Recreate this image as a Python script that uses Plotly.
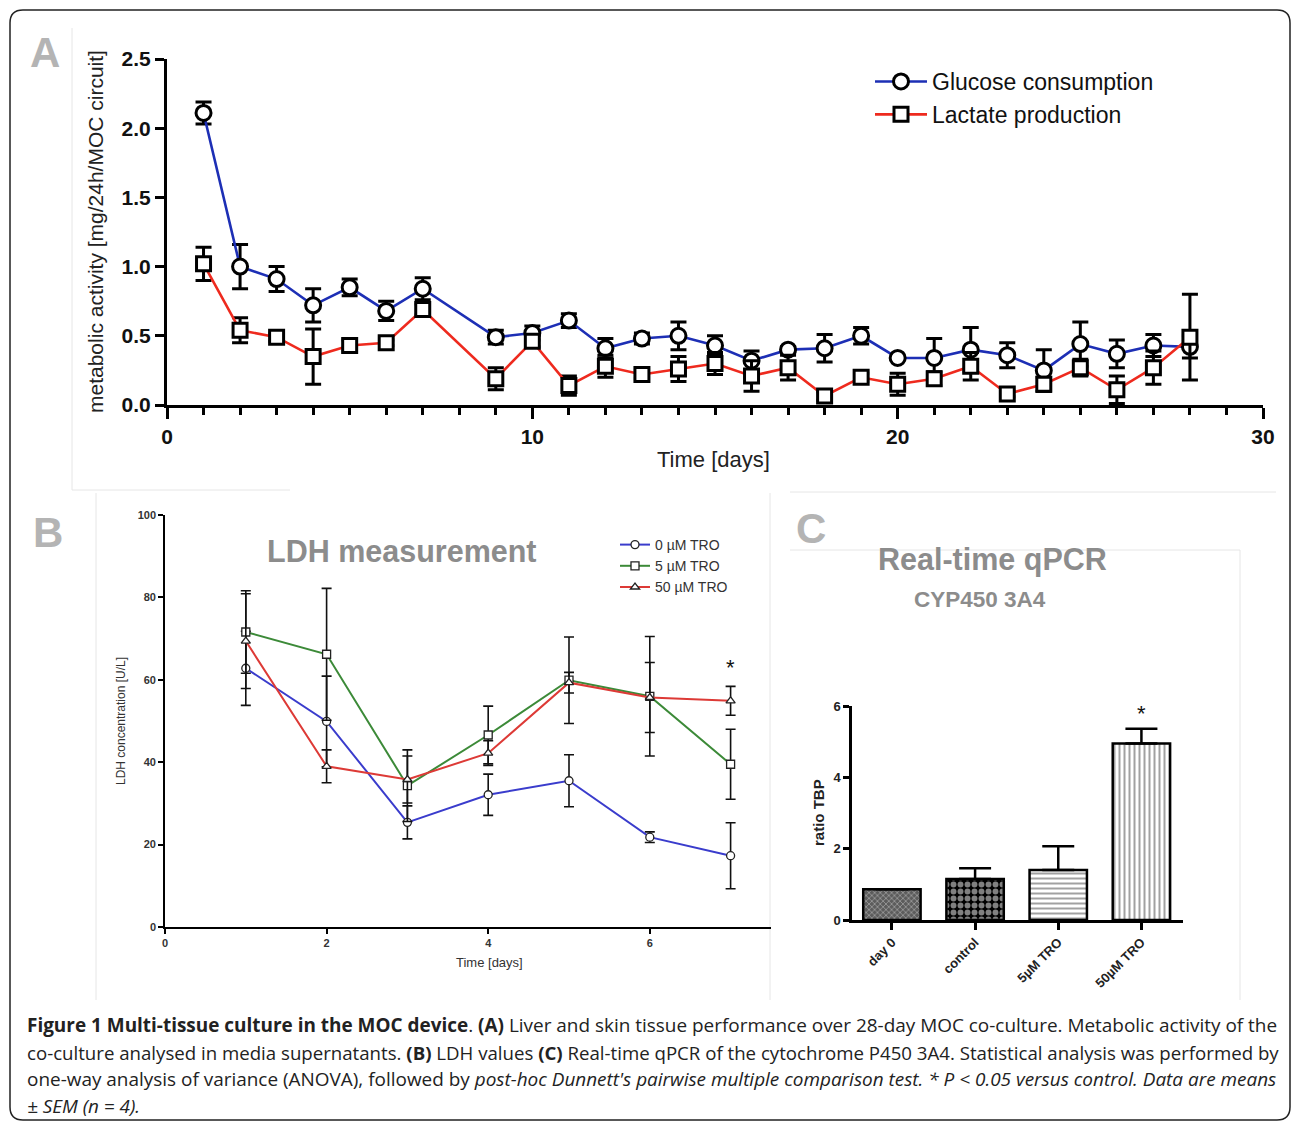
import plotly.graph_objects as go

# ---------------- data ----------------
days_A = [1, 2, 3, 4, 5, 6, 7, 9, 10, 11, 12, 13, 14, 15, 16, 17, 18, 19, 20, 21, 22, 23, 24, 25, 26, 27, 28]
glucose = [2.11, 1.00, 0.91, 0.72, 0.85, 0.68, 0.84, 0.49, 0.52, 0.61, 0.41, 0.48, 0.50, 0.43,
           0.32, 0.40, 0.41, 0.50, 0.34, 0.34, 0.40, 0.36, 0.25, 0.44, 0.37, 0.43, 0.42]
glucose_err = [0.08, 0.16, 0.09, 0.12, 0.06, 0.07, 0.08, 0.05, 0.05, 0.05, 0.07, 0.04, 0.10, 0.07,
               0.07, 0.02, 0.10, 0.06, 0.01, 0.14, 0.16, 0.09, 0.15, 0.16, 0.10, 0.08, 0.08]
lactate = [1.02, 0.54, 0.49, 0.35, 0.43, 0.45, 0.69, 0.19, 0.46, 0.14, 0.28, 0.22, 0.26, 0.30,
           0.21, 0.27, 0.065, 0.20, 0.15, 0.19, 0.28, 0.08, 0.15, 0.27, 0.11, 0.27, 0.49]
lactate_err = [0.12, 0.09, 0.03, 0.20, 0.04, 0.02, 0.04, 0.08, 0.04, 0.07, 0.08, 0.03, 0.09, 0.08,
               0.11, 0.09, 0.03, 0.03, 0.08, 0.05, 0.10, 0.02, 0.05, 0.06, 0.10, 0.12, 0.31]

days_B = [1, 2, 3, 4, 5, 6, 7]
ldh_0 = [62.8, 49.9, 25.4, 32.1, 35.5, 21.8, 17.3]
ldh_0_err = [9, 11, 4, 5, 6.3, 1.3, 8]
ldh_5 = [71.6, 66.2, 34.3, 46.6, 59.9, 56.0, 39.5]
ldh_5_err = [10, 16, 8.7, 7, 10.5, 14.5, 8.5]
ldh_50 = [69.4, 39.0, 35.8, 42.2, 59.3, 55.7, 54.9]
ldh_50_err = [11.5, 4, 5.7, 3, 2.5, 8.5, 3.5]

groups_C = ["day 0", "control", "5µM TRO", "50µM TRO"]
ratio_tbp = [0.86, 1.15, 1.40, 4.95]
ratio_err = [0, 0.30, 0.67, 0.41]

# ---------------- geometry helpers (page pixels -> paper) ----------------
W, H = 1293, 1123


def X(px):
    return px / W


def Y(py):
    return 1 - py / H


ARIAL = "Liberation Sans, Arial, sans-serif"
CAP = "Open Sans, Lato, sans-serif"

fig = go.Figure()

# ---------------- Panel A ----------------
fig.add_trace(go.Scatter(
    x=days_A, y=glucose, name="Glucose consumption", mode="lines+markers",
    line=dict(color="#1d2fb5", width=2.6),
    marker=dict(symbol="circle", size=15, color="white", line=dict(color="black", width=3)),
    error_y=dict(type="data", array=glucose_err, color="black", thickness=3, width=8),
    xaxis="x", yaxis="y", legend="legend"))
fig.add_trace(go.Scatter(
    x=days_A, y=lactate, name="Lactate production", mode="lines+markers",
    line=dict(color="#ee2a1e", width=2.6),
    marker=dict(symbol="square", size=14, color="white", line=dict(color="black", width=3)),
    error_y=dict(type="data", array=lactate_err, color="black", thickness=3, width=8),
    xaxis="x", yaxis="y", legend="legend"))

# ---------------- Panel B ----------------
for vals, errs, name, col, sym in [
    (ldh_0, ldh_0_err, "0 µM TRO", "#3a3ccc", "circle"),
    (ldh_5, ldh_5_err, "5 µM TRO", "#3c8a38", "square"),
    (ldh_50, ldh_50_err, "50 µM TRO", "#dd3a36", "triangle-up"),
]:
    fig.add_trace(go.Scatter(
        x=days_B, y=vals, name=name, mode="lines+markers",
        line=dict(color=col, width=2),
        marker=dict(symbol=sym, size=8, color="white", line=dict(color="#222", width=1.3)),
        error_y=dict(type="data", array=errs, color="#111", thickness=1.6, width=5),
        xaxis="x2", yaxis="y2", legend="legend2"))

# ---------------- Panel C ----------------
fig.add_trace(go.Bar(
    x=groups_C, y=ratio_tbp, width=0.69, showlegend=False,
    marker=dict(
        color=["#5c5c5c", "black", "white", "white"],
        line=dict(color="black", width=2.5),
        pattern=dict(
            shape=["x", ".", "-", "|"],
            fgcolor=["#9a9a9a", "white", "#8a8a8a", "#8a8a8a"],
            size=[4, 7, 5, 5],
            solidity=[0.3, 0.55, 0.4, 0.4],
            fillmode="overlay",
        ),
    ),
    error_y=dict(type="data", symmetric=False, array=ratio_err, arrayminus=[0, 0, 0, 0],
                 color="black", thickness=2.5, width=16),
    xaxis="x3", yaxis="y3"))

# ---------------- axes ----------------
common = dict(showgrid=False, zeroline=False, showline=True, linecolor="black", ticks="outside",
              tickcolor="black", automargin=False)

fig.update_layout(
    xaxis=dict(**common, domain=[X(167), X(1263)], range=[0, 30], tickvals=[0, 10, 20, 30],
               linewidth=3, tickwidth=3, ticklen=11, anchor="y",
               tickfont=dict(family=ARIAL, size=21, color="#111", weight="bold"),
               minor=dict(dtick=1, ticks="outside", ticklen=7, tickwidth=2.5, tickcolor="black")),
    yaxis=dict(**common, domain=[Y(405), Y(59)], range=[0, 2.5], tickvals=[0, 0.5, 1, 1.5, 2, 2.5],
               ticktext=["0.0", "0.5", "1.0", "1.5", "2.0", "2.5"],
               linewidth=3, tickwidth=3, ticklen=9, anchor="x",
               tickfont=dict(family=ARIAL, size=21, color="#111", weight="bold")),
    xaxis2=dict(**common, domain=[X(165), X(771)], range=[0, 7.5], tickvals=[0, 2, 4, 6],
                linewidth=1.6, tickwidth=1.6, ticklen=5, anchor="y2",
                tickfont=dict(family=ARIAL, size=11, color="#333", weight="bold")),
    yaxis2=dict(**common, domain=[Y(927), Y(515)], range=[0, 100], tickvals=[0, 20, 40, 60, 80, 100],
                linewidth=1.6, tickwidth=1.6, ticklen=5, anchor="x2",
                tickfont=dict(family=ARIAL, size=11, color="#333", weight="bold")),
    xaxis3=dict(**common, domain=[X(852), X(1183)], range=[-0.48, 3.5],
                linewidth=2.5, tickwidth=2.5, ticklen=7, anchor="y3", tickangle=-45,
                tickfont=dict(family=ARIAL, size=13, color="#222", weight="bold")),
    yaxis3=dict(**common, domain=[Y(920), Y(706)], range=[0, 6], tickvals=[0, 2, 4, 6],
                linewidth=2.5, tickwidth=2.5, ticklen=6, anchor="x3",
                tickfont=dict(family=ARIAL, size=13, color="#222", weight="bold")),
)

# ---------------- legends ----------------
fig.update_layout(
    legend=dict(x=X(870), y=Y(60), xanchor="left", yanchor="top", bgcolor="rgba(0,0,0,0)",
                font=dict(family=ARIAL, size=23, color="#111"), itemwidth=52, tracegroupgap=0),
    legend2=dict(x=X(615), y=Y(529), xanchor="left", yanchor="top", bgcolor="rgba(0,0,0,0)",
                 font=dict(family=ARIAL, size=14, color="#333"), itemwidth=30, tracegroupgap=0),
)

# ---------------- annotations ----------------
ann = []


def text(px, py, t, size, color="#111", family=ARIAL, weight="normal", angle=0, xanchor="center",
         yanchor="middle"):
    ann.append(dict(x=X(px), y=Y(py), xref="paper", yref="paper", text=t, showarrow=False,
                    textangle=angle, xanchor=xanchor, yanchor=yanchor,
                    font=dict(family=family, size=size, color=color, weight=weight)))


# panel letters
text(45, 52, "A", 42, color="#b4b4b4", weight="bold")
text(48, 533, "B", 42, color="#b4b4b4", weight="bold")
text(811, 528, "C", 42, color="#b4b4b4", weight="bold")

# panel A titles
text(95, 232, "metabolic activity [mg/24h/MOC circuit]", 21, color="#222", angle=-90)
text(714, 459, "Time [days]", 22, color="#222")

# panel B titles
text(402, 551, "LDH measurement", 30.5, color="#8c8c8c", weight="bold")
text(121, 721, "LDH concentration [U/L]", 12, color="#333", angle=-90)
text(489, 962, "Time [days]", 13, color="#333")

# panel C titles
text(993, 559, "Real-time qPCR", 30.5, color="#8c8c8c", weight="bold")
text(980, 599, "CYP450 3A4", 22.5, color="#8c8c8c", weight="bold")
text(818, 813, "ratio TBP", 15, color="#222", weight="bold", angle=-90)

# significance stars
ann.append(dict(x=days_B[-1], y=ldh_50[-1] + 8, xref="x2", yref="y2", text="*", showarrow=False,
                font=dict(family=ARIAL, size=22, color="#111")))
ann.append(dict(x=groups_C[-1], y=ratio_tbp[-1] + 0.85, xref="x3", yref="y3", text="*", showarrow=False,
                font=dict(family=ARIAL, size=22, color="#111")))

# caption
cap_lines = [
    "<b>Figure 1 Multi-tissue culture in the MOC device</b>. <b>(A)</b> Liver and skin tissue performance over "
    "28-day MOC co-culture. Metabolic activity of the",
    "co-culture analysed in media supernatants. <b>(B)</b> LDH values <b>(C)</b> Real-time qPCR of the "
    "cytochrome P450 3A4. Statistical analysis was performed by",
    "one-way analysis of variance (ANOVA), followed by <i>post-hoc Dunnett's pairwise multiple comparison "
    "test. * P &lt; 0.05 versus control. Data are means</i>",
    "<i>± SEM (n = 4).</i>",
]
cap_sizes = [18.95, 18.65, 18.95, 18.9]
for i, line in enumerate(cap_lines):
    text(25, 1025 + 27 * i, line, cap_sizes[i], color="#222", family=CAP, xanchor="left")

fig.update_layout(annotations=ann)

# ---------------- shapes (frames) ----------------
shapes = []


def pline(x0, y0, x1, y1, color="#e6e6e6", width=1):
    shapes.append(dict(type="line", xref="paper", yref="paper", x0=X(x0), y0=Y(y0), x1=X(x1), y1=Y(y1),
                       line=dict(color=color, width=width), layer="below"))


pline(72, 28, 72, 490)
pline(72, 490, 290, 490)
pline(96, 493, 96, 1000)
pline(770, 493, 770, 1000)
pline(790, 492, 1276, 492)
pline(790, 550, 1240, 550)
pline(1240, 550, 1240, 1000)

# outer rounded border
L, T, R, B, r = 10, 10, 1290, 1120, 13
path = (f"M {X(L + r)},{Y(T)} L {X(R - r)},{Y(T)} Q {X(R)},{Y(T)} {X(R)},{Y(T + r)} "
        f"L {X(R)},{Y(B - r)} Q {X(R)},{Y(B)} {X(R - r)},{Y(B)} "
        f"L {X(L + r)},{Y(B)} Q {X(L)},{Y(B)} {X(L)},{Y(B - r)} "
        f"L {X(L)},{Y(T + r)} Q {X(L)},{Y(T)} {X(L + r)},{Y(T)} Z")
shapes.append(dict(type="path", xref="paper", yref="paper", path=path,
                   line=dict(color="#222", width=1.5), layer="below"))

fig.update_layout(
    shapes=shapes,
    width=W, height=H, autosize=False,
    margin=dict(l=0, r=0, t=0, b=0, pad=0, autoexpand=False),
    paper_bgcolor="white", plot_bgcolor="rgba(0,0,0,0)",
    bargap=0.3,
)

fig.write_html(
    "out.html",
    config={"displayModeBar": False},
    post_script="document.body.style.margin='0';document.body.style.overflow='hidden';"
                "document.documentElement.style.overflow='hidden';",
)
